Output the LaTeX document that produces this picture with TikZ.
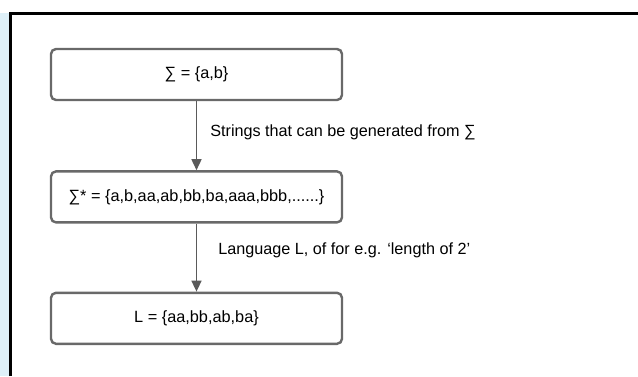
\documentclass[tikz,border=0pt]{standalone}
\usepackage{fontspec}
\setmainfont{Liberation Sans}
\usetikzlibrary{arrows.meta}
\usetikzlibrary{positioning}

\definecolor{boxgray}{RGB}{105,105,105}
\definecolor{arrowgray}{RGB}{90,90,90}
\definecolor{sideblue}{RGB}{222,240,248}

\tikzset{
    setbox/.style={draw=boxgray, line width=2.4pt, rounded corners=5pt, fill=white,
        minimum width=291pt, minimum height=51pt, inner sep=0pt,
        font=\fontsize{16.3}{19}\selectfont},
    flow/.style={draw=arrowgray, line width=1.6pt,
        -{Triangle[length=11pt,width=10pt]}},
    lbl/.style={anchor=west, inner sep=0pt, font=\fontsize{16.2}{19}\selectfont}
}

\begin{document}
\begin{tikzpicture}[x=1pt,y=-1pt]
    \useasboundingbox (0,0) rectangle (638,376);
    \fill[white] (0,0) rectangle (638,376);
    \fill[sideblue] (0,13) rectangle (9,376);
    % outer frame
    \draw[line width=3pt] (10,376) |- (638,13);

    \node[setbox] at (196.5,74.5) (sigma) {∑ = \{a,b\}};
    \node[setbox, below=69pt of sigma] (sigmastar) {∑* = \{a,b,aa,ab,bb,ba,aaa,bbb,......\}};
    \node[setbox, below=68pt of sigmastar] (lang) {L = \{aa,bb,ab,ba\}};

    \draw[flow] (sigma) -- node[lbl, pos=0.45, xshift=13pt] {Strings that can be generated from ∑} (sigmastar);
    \draw[flow] (sigmastar) -- node[lbl, pos=0.4, xshift=21pt] {Language L, of for e.g. ‘length of 2’} (lang);
\end{tikzpicture}
\end{document}
